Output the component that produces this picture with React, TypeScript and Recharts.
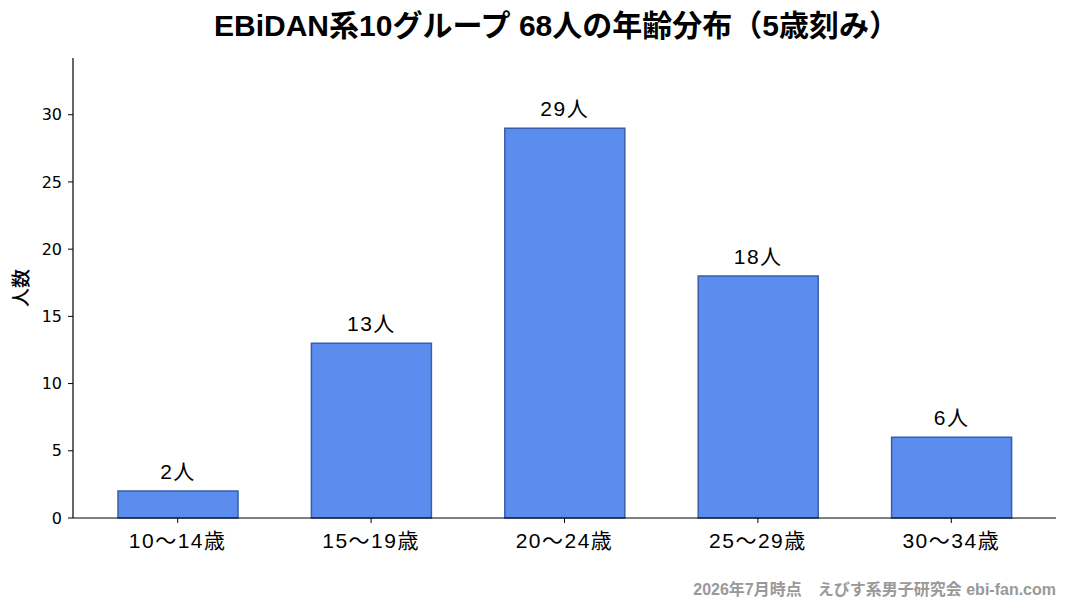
import { Bar, BarChart, LabelList, XAxis, YAxis } from 'recharts';

const AGE_BANDS = ['10〜14歳', '15〜19歳', '20〜24歳', '25〜29歳', '30〜34歳'];
const MEMBER_COUNTS = [2, 13, 29, 18, 6];
const Y_TICKS = [0, 5, 10, 15, 20, 25, 30];

const JP_FONT = '"Liberation Sans", "Noto Sans CJK JP", sans-serif';
const TICK_FONT = '"DejaVu Sans", sans-serif';

const data = AGE_BANDS.map((band, i) => ({ band, count: MEMBER_COUNTS[i] }));

export default function App() {
  return (
    <div style={{ position: 'absolute', left: 0, top: 0, width: 1067, height: 609, background: '#fff' }}>
      <div
        style={{
          position: 'absolute',
          left: 0,
          width: 1113,
          top: 1,
          textAlign: 'center',
          fontFamily: JP_FONT,
          fontWeight: 700,
          fontSize: 30,
          color: '#000',
        }}
      >
        EBiDAN系10グループ 68人の年齢分布（5歳刻み）
      </div>
      <BarChart
        width={1067}
        height={609}
        data={data}
        margin={{ top: 58, right: 11, left: 33, bottom: 51 }}
      >
        <XAxis
          dataKey="band"
          height={40}
          padding={{ left: 8, right: 8 }}
          tickSize={5}
          tickMargin={10}
          tick={{ fontSize: 21, fontFamily: JP_FONT, fill: '#000', letterSpacing: 1.5 }}
          axisLine={{ stroke: '#000', strokeWidth: 1.2 }}
          tickLine={{ stroke: '#000' }}
        />
        <YAxis
          width={40}
          domain={[0, 34.22]}
          ticks={Y_TICKS}
          tickSize={5}
          tickMargin={6}
          tick={{ fontSize: 16, fontFamily: TICK_FONT, fill: '#000' }}
          axisLine={{ stroke: '#000', strokeWidth: 1.2 }}
          tickLine={{ stroke: '#000' }}
          label={{
            value: '人数',
            angle: -90,
            position: 'insideLeft',
            offset: -12,
            style: { fontSize: 19, fontFamily: JP_FONT, fontWeight: 500, fill: '#000', textAnchor: 'middle' },
          }}
        />
        <Bar
          dataKey="count"
          barSize={120}
          fill="#5b8def"
          stroke="#3a5ea8"
          strokeWidth={1.5}
          isAnimationActive={false}
        >
          <LabelList
            dataKey="count"
            position="top"
            offset={12}
            formatter={(v: number) => `${v}人`}
            style={{ fontSize: 21, fontFamily: JP_FONT, fill: '#000', letterSpacing: 1.5 }}
          />
        </Bar>
      </BarChart>
      <div
        style={{
          position: 'absolute',
          right: 11,
          top: 576,
          fontFamily: JP_FONT,
          fontWeight: 700,
          fontSize: 16,
          color: '#999',
        }}
      >
        2026年7月時点　えびす系男子研究会 ebi-fan.com
      </div>
    </div>
  );
}
